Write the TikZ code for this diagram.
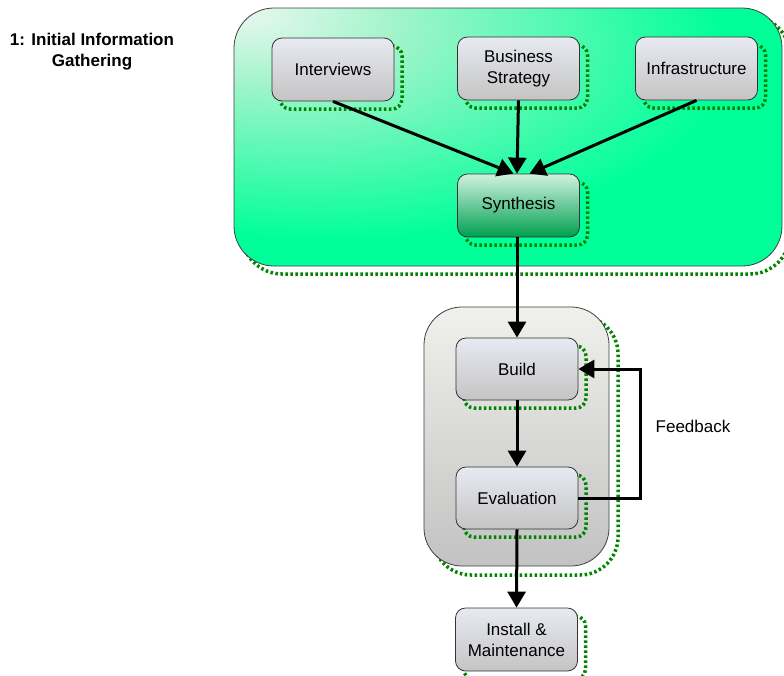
\documentclass[tikz,border=0pt]{standalone}
\usepackage{fontspec}
\setmainfont{Liberation Sans}
\usetikzlibrary{arrows.meta,shadows,calc}

\definecolor{bggreen}{HTML}{00FF99}
\definecolor{bgmid}{HTML}{A0F4CA}
\definecolor{bglight}{HTML}{EEF8F2}
\definecolor{boxlight}{HTML}{E8EAF2}
\definecolor{boxgrey}{HTML}{C4C4C4}
\definecolor{synlight}{HTML}{D0F2E0}
\definecolor{syngreen}{HTML}{00A050}
\definecolor{shadowgreen}{HTML}{008400}
\definecolor{panellight}{HTML}{F0F0EC}
\definecolor{panelgrey}{HTML}{C2C2C2}

% glow from the upper left corner of the first phase panel
\pgfdeclareradialshading{cornerglow}{\pgfpoint{-25bp}{25bp}}{%
  color(0bp)=(bglight); color(12bp)=(bgmid); color(36bp)=(bggreen); color(100bp)=(bggreen)}

\tikzset{
  dotshadow/.style={general shadow={shadow xshift=#1, shadow yshift=-#1,
      draw=shadowgreen, line width=3.5pt, dash pattern=on 2.5pt off 2.5pt}},
  container/.style={draw=black!75, line width=0.8pt, inner sep=0pt,
      rounded corners=40pt},
  stepbox/.style={draw=black!80, line width=0.8pt, rounded corners=10pt,
      minimum width=122pt, minimum height=63pt, align=center,
      font=\fontsize{17}{21}\selectfont, shade, shading angle=45,
      top color=boxlight, bottom color=boxgrey, dotshadow=8pt},
  flow/.style={line width=3pt, -{Triangle[length=16pt,width=18pt]}},
  x=1pt, y=1pt
}

\begin{document}
\begin{tikzpicture}
\useasboundingbox (0,0) rectangle (784,-675);

% phase panels
\node[container, dotshadow=8pt, minimum width=548pt, minimum height=258pt,
      shading=cornerglow]
      (phase) at (508,-137) {};
\node[container, rounded corners=38pt, dotshadow=9pt, minimum width=185pt, minimum height=259pt,
      shade, shading angle=45, top color=panellight, bottom color=panelgrey]
      (loop) at (516.5,-436.5) {};

% title
\node[font=\bfseries\fontsize{17}{21}\selectfont, align=center] (title) at (92,-52)
  {1: Initial Information\\Gathering};

% steps
\node[stepbox] (interviews) at (333,-69.5) {Interviews};
\node[stepbox] (business) at (518.5,-68.5) {Business\\Strategy};
\node[stepbox] (infra) at (696.5,-68.5) {Infrastructure};
\node[stepbox, top color=synlight, bottom color=syngreen] (synth) at (518.5,-205.5) {Synthesis};
\node[stepbox, minimum height=62pt] (build) at (517,-369) {Build};
\node[stepbox, minimum height=62pt] (eval) at (517,-498) {Evaluation};
\node[stepbox] (install) at (516.5,-639.5) {Install \&\\Maintenance};

\node[font=\fontsize{17}{21}\selectfont] (fblabel) at (693,-426) {Feedback};

% connectors
\draw[flow] (interviews.south) -- ($(synth.north)+(-5,0)$);
\draw[flow] (business.south) -- ($(synth.north)+(-1.5,0)$);
\draw[flow] (infra.south) -- ($(synth.north)+(11,0)$);
\draw[flow] ($(synth.south)+(-1.5,0)$) -- (build.north);
\draw[flow] (build.south) -- (eval.north);
\draw[flow] (eval.east) -- ++(62,0) |- (build.east);
\draw[flow] (eval.south) -- (install.north);
\end{tikzpicture}
\end{document}
